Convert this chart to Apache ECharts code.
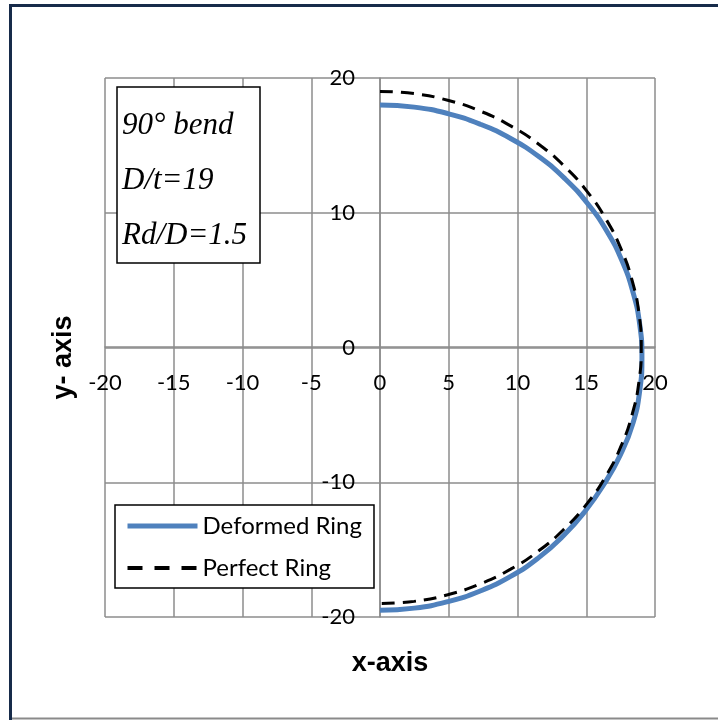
<!DOCTYPE html>
<html>
<head>
<meta charset="utf-8">
<script src="https://cdn.jsdelivr.net/npm/echarts@6/dist/echarts.min.js"></script>
<style>
html,body{margin:0;padding:0;background:#fff;}
#chart{width:718px;height:720px;}
</style>
</head>
<body>
<div id="chart"></div>
<script>
// Series names
var seriesNames = ['Deformed Ring', 'Perfect Ring'];

// Deformed ring points [x, y]
var deformedRing = [
  [0, 18.0], [2.49, 17.84], [4.93, 17.36], [7.29, 16.57], [9.53, 15.49],
  [11.60, 14.13], [13.47, 12.51], [15.11, 10.67], [16.50, 8.63], [17.60, 6.43],
  [18.40, 4.10], [18.89, 1.70], [19.05, -0.75], [18.89, -3.20], [18.40, -5.60],
  [17.50, -7.93], [16.30, -10.13], [14.90, -12.17], [13.30, -14.01], [11.50, -15.63],
  [9.50, -16.99], [7.29, -18.07], [4.93, -18.86], [2.49, -19.34], [0, -19.5]
];

// Perfect ring points [x, y]
var perfectRing = [
  [0, 19.0], [2.48, 18.84], [4.92, 18.35], [7.27, 17.55], [9.50, 16.45],
  [11.57, 15.07], [13.43, 13.43], [15.07, 11.57], [16.45, 9.50], [17.55, 7.27],
  [18.35, 4.92], [18.84, 2.48], [19.0, 0], [18.84, -2.48], [18.35, -4.92],
  [17.55, -7.27], [16.45, -9.50], [15.07, -11.57], [13.43, -13.43], [11.57, -15.07],
  [9.50, -16.45], [7.27, -17.55], [4.92, -18.35], [2.48, -18.84], [0, -19.0]
];

// Axis settings
var xRange = [-20, 20], xStep = 5;
var yRange = [-20, 20], yStep = 10;
var xTitle = 'x-axis', yTitle = 'y- axis';
var noteLines = ['90° bend', 'D/t=19', 'Rd/D=1.5'];

var chart = echarts.init(document.getElementById('chart'), null, {renderer: 'canvas'});
var gridColor = '#8c8c8c';
var labelFont = 'Lato, "Open Sans", sans-serif';
var titleFont = '"Liberation Sans", Arial, sans-serif';

chart.setOption({
  animation: false,
  backgroundColor: '#fff',
  title: {
    text: noteLines.join('\n'),
    left: 117, top: 87,
    padding: [11, 13, 0, 5],
    borderColor: '#000', borderWidth: 1.5,
    backgroundColor: '#fff',
    textStyle: {
      fontFamily: '"Liberation Serif", serif',
      fontStyle: 'italic', fontWeight: 'normal',
      fontSize: 31, lineHeight: 55, color: '#000'
    }
  },
  legend: {
    data: [
      {name: seriesNames[0], lineStyle: {width: 5, color: '#4f81bd'}},
      {name: seriesNames[1], lineStyle: {width: 4, color: '#000', type: [15, 12]}}
    ],
    orient: 'vertical',
    left: 115, top: 505,
    padding: [9, 12, 8, 10],
    itemWidth: 70, itemHeight: 14, itemGap: 18,
    itemStyle: {color: 'rgba(0,0,0,0)', borderColor: 'rgba(0,0,0,0)', borderWidth: 0},
    borderColor: '#000', borderWidth: 1.5,
    backgroundColor: '#fff',
    textStyle: {fontFamily: labelFont, fontSize: 24, color: '#000'}
  },
  grid: {left: 105, right: 63, top: 78, bottom: 103, containLabel: false, outerBoundsMode: 'none'},
  xAxis: {
    type: 'value', min: xRange[0], max: xRange[1], interval: xStep,
    offset: -270,
    name: xTitle, nameLocation: 'middle', nameGap: 303,
    nameTextStyle: {fontFamily: titleFont, fontWeight: 'bold', fontSize: 27, color: '#000', padding: [0, 0, 0, 20]},
    axisLine: {show: true, onZero: false, lineStyle: {color: gridColor, width: 1.5}},
    axisTick: {show: false},
    axisLabel: {margin: 25, fontFamily: labelFont, fontSize: 22, color: '#000', showMinLabel: true, showMaxLabel: true},
    splitLine: {show: true, lineStyle: {color: gridColor, width: 1.5}}
  },
  yAxis: {
    type: 'value', min: yRange[0], max: yRange[1], interval: yStep,
    offset: -275,
    name: yTitle, nameLocation: 'middle', nameGap: 303, nameRotate: 90,
    nameTextStyle: {fontFamily: titleFont, fontWeight: 'bold', fontSize: 27, color: '#000', padding: [0, 20, 0, 0]},
    axisLine: {show: true, onZero: false, lineStyle: {color: gridColor, width: 1.5}},
    axisTick: {show: false},
    axisLabel: {margin: 25, fontFamily: labelFont, fontSize: 22, color: '#000', showMinLabel: true, showMaxLabel: true},
    splitLine: {show: true, lineStyle: {color: gridColor, width: 1.5}}
  },
  graphic: [
    {type: 'line', shape: {x1: 10.5, y1: 4, x2: 10.5, y2: 720}, style: {stroke: '#172b4a', lineWidth: 3}, silent: true},
    {type: 'line', shape: {x1: 9, y1: 5.5, x2: 718, y2: 5.5}, style: {stroke: '#172b4a', lineWidth: 3}, silent: true},
    {type: 'line', shape: {x1: 12, y1: 718.5, x2: 718, y2: 718.5}, style: {stroke: '#8a8a8a', lineWidth: 2}, silent: true}
  ],
  series: [
    {
      name: seriesNames[0], type: 'line', data: deformedRing,
      smooth: true, symbol: 'none', showSymbol: false,
      lineStyle: {color: '#4f81bd', width: 5},
      itemStyle: {color: '#4f81bd'}, z: 3
    },
    {
      name: seriesNames[1], type: 'line', data: perfectRing,
      smooth: true, symbol: 'none', showSymbol: false,
      lineStyle: {color: '#000', width: 3, type: [13, 8]},
      itemStyle: {color: '#000'}, z: 4
    }
  ]
});
</script>
</body>
</html>
